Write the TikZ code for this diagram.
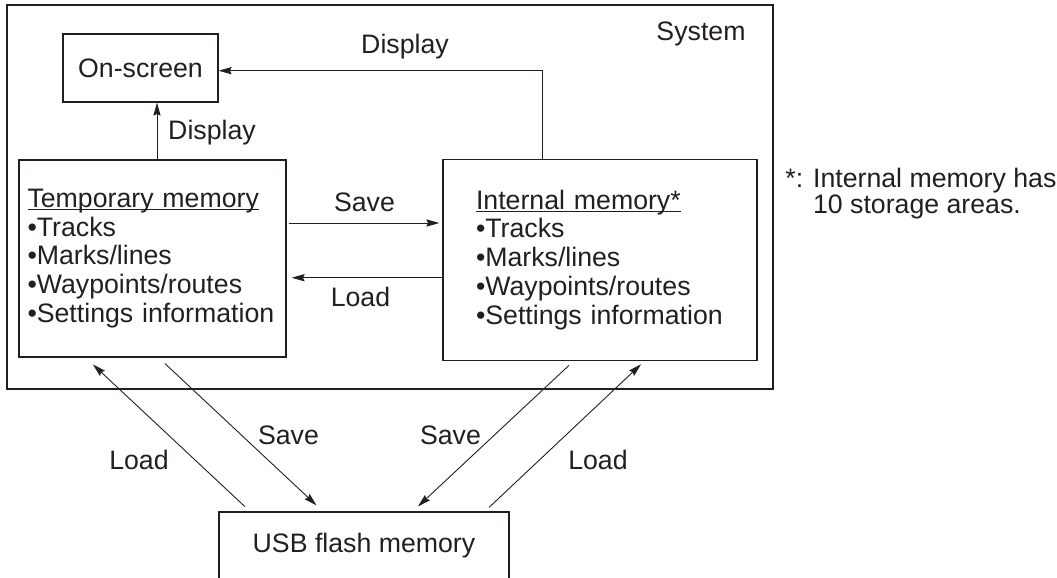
\documentclass[tikz,border=0pt]{standalone}
\usepackage{fontspec}
\setmainfont{Liberation Sans}
\usetikzlibrary{arrows.meta,positioning}
\definecolor{ink}{RGB}{35,31,32}
\newcommand{\ulhead}[1]{\sbox0{#1}\rlap{\rule[-1.3pt]{\wd0}{0.55pt}}\usebox0}
\tikzset{
  memfont/.style={font=\fontsize{13.35}{14.4}\selectfont, text=ink},
  sysframe/.style={draw=ink, line width=1pt},
  membox/.style={draw=ink, line width=0.6pt, align=left, memfont, inner ysep=0pt},
  smallbox/.style={draw=ink, line width=0.6pt, memfont},
  arr/.style={-{Stealth[length=6.5pt,width=3.6pt,inset=0.8pt]}, draw=ink, line width=0.45pt},
  lbl/.style={memfont, anchor=base, inner sep=0pt},
}

\begin{document}
\begin{tikzpicture}[x=0.5pt, y=-0.5pt]
  \useasboundingbox (0,0) rectangle (1057,578);
  \draw[sysframe] (7,5) rectangle (773,389);
  \node[lbl] (syslbl) at (701,40) {System};

  \node[smallbox, minimum width=77.5pt, minimum height=34pt] (onscreen) at (140.5,68) {On-screen};
  \node[membox, text width=125pt, inner xsep=4.25pt, minimum height=98.5pt] (temp) at (152.5,258.5)
    {\ulhead{Temporary memory}\\•Tracks\\•Marks/lines\\•Waypoints/routes\\•Settings information};
  \node[membox, text width=124pt, inner xsep=16.5pt, minimum height=100.5pt] (internal) at (600,259.75)
    {\ulhead{Internal memory*}\\•Tracks\\•Marks/lines\\•Waypoints/routes\\•Settings information};
  \node[smallbox, minimum width=145pt, minimum height=34pt] (usb) at (364,546) {USB flash memory};

  \node[memfont, font=\fontsize{13.35}{13}\selectfont, align=left, anchor=north west, inner sep=0pt] (note)
    at (785,167.5) {*: Internal memory has\\\phantom{*: }10 storage areas.};

  \coordinate (dispA) at ([xshift=2.25pt]temp.north);
  \draw[arr] (dispA) -- (dispA |- onscreen.south);
  \node[lbl] (displbl) at (212,140) {Display};

  \coordinate (dispB) at ([xshift=-29pt]internal.north);
  \coordinate (dispC) at ([yshift=-1.35pt]onscreen.east);
  \draw[arr] (dispB) |- (dispC);
  \node[lbl] (displbltop) at (405,54) {Display};

  \coordinate (saveA) at ([yshift=17.75pt]temp.east);
  \draw[arr, shorten <=1pt, shorten >=1.5pt] (saveA) -- (saveA -| internal.west);
  \node[lbl] (savelbl) at (364.5,211.7) {Save};
  \coordinate (loadA) at ([yshift=-9pt]internal.west);
  \draw[arr, shorten >=2.5pt] (loadA) -- (loadA -| temp.east);
  \node[lbl] (loadlbl) at (360.5,306.7) {Load};

  \draw[arr, shorten <=3.5pt, shorten >=5pt] ([xshift=-57pt]usb.north) -- ([xshift=-33.45pt]temp.south);
  \draw[arr, shorten <=4.4pt, shorten >=4.4pt] ([xshift=3.05pt]temp.south) -- ([xshift=-20.5pt]usb.north);
  \draw[arr, shorten <=3.3pt, shorten >=3.6pt] ([xshift=-13.1pt]internal.south) -- ([xshift=24.35pt]usb.north);
  \draw[arr, shorten <=2.9pt, shorten >=2.5pt] ([xshift=60.4pt]usb.north) -- ([xshift=22.35pt]internal.south);
  \node[lbl] (usbload) at (139,469.3) {Load};
  \node[lbl] (usbsave) at (288.5,444.3) {Save};
  \node[lbl] (intsave) at (450.5,444.3) {Save};
  \node[lbl] (intload) at (598,469.3) {Load};
\end{tikzpicture}
\end{document}
